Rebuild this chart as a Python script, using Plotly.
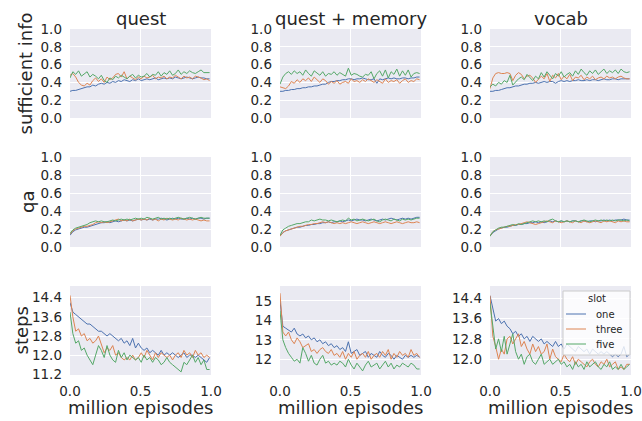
import numpy as np
import plotly.graph_objects as go

# ---------------- data ----------------
columns = ["quest", "quest + memory", "vocab"]
rows = ["sufficient info", "qa", "steps"]
slots = ["one", "three", "five"]
legend_title = "slot"
n_points = 50
episodes = np.linspace(0.0, 0.99, n_points)  # million episodes

# sufficient info
suff_quest_one = [0.30,0.31,0.31,0.32,0.33,0.34,0.35,0.35,0.37,0.36,0.38,0.39,0.38,0.40,0.39,0.41,0.40,0.42,0.41,0.43,0.42,0.41,0.43,0.42,0.44,0.42,0.43,0.44,0.43,0.44,0.45,0.43,0.44,0.45,0.44,0.45,0.44,0.46,0.45,0.44,0.45,0.46,0.45,0.44,0.45,0.46,0.45,0.45,0.44,0.44]
suff_quest_three = [0.48,0.50,0.46,0.40,0.37,0.36,0.39,0.37,0.42,0.45,0.41,0.44,0.40,0.46,0.43,0.45,0.49,0.50,0.46,0.52,0.44,0.47,0.45,0.43,0.46,0.44,0.47,0.45,0.46,0.48,0.44,0.46,0.45,0.47,0.44,0.46,0.45,0.48,0.46,0.44,0.47,0.45,0.46,0.44,0.47,0.46,0.45,0.43,0.44,0.42]
suff_quest_five = [0.45,0.52,0.49,0.53,0.47,0.50,0.52,0.46,0.49,0.47,0.44,0.48,0.42,0.40,0.45,0.43,0.47,0.45,0.48,0.46,0.44,0.47,0.49,0.45,0.48,0.46,0.47,0.50,0.46,0.49,0.48,0.52,0.47,0.51,0.49,0.53,0.48,0.50,0.54,0.49,0.52,0.50,0.53,0.51,0.50,0.52,0.54,0.51,0.51,0.51]

suff_mem_one = [0.30,0.30,0.31,0.31,0.32,0.32,0.33,0.33,0.34,0.34,0.35,0.35,0.36,0.36,0.37,0.38,0.38,0.40,0.41,0.41,0.42,0.42,0.43,0.43,0.44,0.44,0.43,0.44,0.44,0.45,0.44,0.43,0.43,0.44,0.39,0.44,0.43,0.44,0.45,0.44,0.45,0.44,0.44,0.45,0.45,0.44,0.45,0.45,0.46,0.46]
suff_mem_three = [0.35,0.34,0.33,0.36,0.41,0.39,0.43,0.40,0.44,0.42,0.45,0.41,0.46,0.43,0.40,0.44,0.42,0.38,0.41,0.39,0.42,0.38,0.40,0.41,0.39,0.44,0.41,0.42,0.40,0.43,0.41,0.44,0.42,0.40,0.43,0.41,0.39,0.44,0.40,0.42,0.41,0.43,0.39,0.42,0.44,0.40,0.42,0.41,0.44,0.43]
suff_mem_five = [0.38,0.46,0.50,0.52,0.49,0.53,0.50,0.52,0.48,0.54,0.50,0.47,0.53,0.51,0.48,0.52,0.47,0.50,0.49,0.52,0.48,0.51,0.49,0.47,0.56,0.48,0.50,0.49,0.47,0.46,0.49,0.48,0.52,0.44,0.50,0.53,0.47,0.54,0.45,0.52,0.49,0.55,0.47,0.53,0.48,0.54,0.46,0.50,0.51,0.50]

suff_vocab_one = [0.30,0.30,0.31,0.31,0.32,0.33,0.34,0.34,0.35,0.36,0.36,0.37,0.38,0.38,0.39,0.39,0.40,0.39,0.40,0.41,0.40,0.41,0.41,0.39,0.41,0.42,0.41,0.42,0.41,0.42,0.42,0.43,0.42,0.42,0.43,0.42,0.43,0.43,0.42,0.43,0.44,0.43,0.43,0.44,0.44,0.43,0.44,0.44,0.44,0.44]
suff_vocab_three = [0.33,0.45,0.50,0.51,0.50,0.50,0.51,0.50,0.42,0.48,0.51,0.49,0.44,0.47,0.48,0.45,0.40,0.43,0.47,0.44,0.50,0.41,0.48,0.45,0.50,0.43,0.47,0.44,0.49,0.42,0.46,0.45,0.48,0.43,0.46,0.44,0.47,0.43,0.45,0.46,0.44,0.47,0.45,0.46,0.44,0.46,0.47,0.45,0.44,0.44]
suff_vocab_five = [0.35,0.38,0.36,0.40,0.38,0.42,0.40,0.48,0.37,0.41,0.44,0.46,0.43,0.49,0.45,0.42,0.47,0.44,0.51,0.46,0.52,0.48,0.44,0.50,0.47,0.52,0.46,0.49,0.51,0.47,0.53,0.49,0.55,0.51,0.48,0.53,0.50,0.54,0.49,0.52,0.55,0.50,0.53,0.51,0.54,0.50,0.55,0.52,0.51,0.52]

# qa
qa_quest_one = [0.13,0.17,0.19,0.20,0.21,0.22,0.22,0.23,0.24,0.25,0.26,0.27,0.27,0.28,0.27,0.28,0.29,0.28,0.29,0.30,0.29,0.30,0.29,0.30,0.31,0.30,0.31,0.30,0.31,0.30,0.31,0.31,0.32,0.31,0.30,0.31,0.32,0.31,0.32,0.31,0.31,0.32,0.31,0.32,0.31,0.32,0.32,0.31,0.32,0.32]
qa_quest_three = [0.14,0.18,0.20,0.21,0.22,0.23,0.23,0.24,0.25,0.27,0.28,0.27,0.28,0.27,0.28,0.29,0.30,0.31,0.29,0.30,0.29,0.31,0.29,0.30,0.31,0.30,0.31,0.30,0.32,0.30,0.31,0.29,0.31,0.30,0.32,0.31,0.30,0.31,0.30,0.32,0.31,0.30,0.31,0.30,0.31,0.30,0.29,0.30,0.29,0.29]
qa_quest_five = [0.15,0.19,0.21,0.22,0.23,0.24,0.25,0.27,0.28,0.29,0.28,0.29,0.28,0.28,0.29,0.30,0.29,0.30,0.31,0.30,0.31,0.30,0.31,0.32,0.31,0.32,0.31,0.33,0.32,0.31,0.32,0.33,0.31,0.32,0.31,0.32,0.31,0.32,0.33,0.32,0.31,0.32,0.33,0.32,0.31,0.32,0.33,0.32,0.32,0.32]

qa_mem_one = [0.12,0.16,0.18,0.19,0.20,0.21,0.22,0.22,0.23,0.24,0.24,0.25,0.25,0.26,0.26,0.27,0.27,0.28,0.27,0.28,0.28,0.29,0.28,0.29,0.30,0.29,0.30,0.31,0.30,0.30,0.29,0.30,0.31,0.30,0.29,0.30,0.31,0.30,0.31,0.32,0.31,0.30,0.31,0.32,0.31,0.32,0.31,0.32,0.33,0.33]
qa_mem_three = [0.12,0.16,0.18,0.19,0.20,0.21,0.22,0.23,0.23,0.24,0.25,0.25,0.26,0.26,0.27,0.28,0.27,0.28,0.27,0.26,0.27,0.26,0.27,0.26,0.27,0.28,0.27,0.26,0.27,0.28,0.27,0.26,0.27,0.28,0.27,0.26,0.27,0.28,0.27,0.26,0.27,0.28,0.27,0.26,0.27,0.28,0.27,0.27,0.28,0.27]
qa_mem_five = [0.13,0.19,0.21,0.23,0.24,0.25,0.26,0.26,0.27,0.28,0.28,0.30,0.29,0.30,0.31,0.30,0.30,0.29,0.30,0.29,0.28,0.29,0.30,0.29,0.32,0.30,0.31,0.29,0.30,0.31,0.30,0.29,0.30,0.31,0.29,0.28,0.30,0.31,0.30,0.29,0.31,0.30,0.29,0.31,0.30,0.31,0.30,0.31,0.32,0.32]

qa_vocab_one = [0.12,0.16,0.18,0.20,0.21,0.22,0.22,0.23,0.24,0.24,0.25,0.25,0.26,0.26,0.27,0.27,0.28,0.27,0.28,0.27,0.28,0.29,0.28,0.29,0.28,0.29,0.28,0.29,0.28,0.29,0.29,0.28,0.29,0.29,0.28,0.29,0.29,0.28,0.29,0.29,0.30,0.29,0.30,0.29,0.30,0.30,0.30,0.31,0.30,0.30]
qa_vocab_three = [0.12,0.17,0.19,0.20,0.21,0.22,0.23,0.23,0.24,0.25,0.25,0.26,0.27,0.28,0.27,0.26,0.25,0.26,0.27,0.28,0.29,0.28,0.27,0.29,0.28,0.27,0.28,0.29,0.28,0.27,0.29,0.28,0.27,0.29,0.28,0.27,0.28,0.29,0.28,0.27,0.29,0.28,0.29,0.28,0.27,0.29,0.28,0.29,0.28,0.28]
qa_vocab_five = [0.12,0.17,0.19,0.21,0.22,0.22,0.23,0.24,0.25,0.24,0.26,0.25,0.26,0.27,0.28,0.29,0.28,0.29,0.28,0.29,0.28,0.30,0.31,0.29,0.28,0.29,0.28,0.29,0.28,0.29,0.29,0.28,0.29,0.30,0.29,0.28,0.29,0.30,0.29,0.30,0.29,0.30,0.29,0.30,0.29,0.30,0.30,0.29,0.30,0.29]

# steps
steps_quest_one = [14.2,13.8,13.7,13.6,13.5,13.4,13.3,13.3,13.2,13.1,13.0,13.0,12.9,12.8,12.9,12.8,12.7,12.6,12.7,12.5,12.6,12.4,12.7,12.3,12.5,12.3,12.2,12.3,12.1,12.2,12.1,12.0,12.2,12.0,12.1,12.0,12.1,12.0,11.9,12.0,12.1,11.9,12.0,12.0,11.9,12.0,11.9,11.8,11.7,11.9]
steps_quest_three = [14.5,13.6,13.0,13.1,12.8,12.9,12.6,12.7,12.5,12.6,12.8,12.4,12.1,12.3,12.2,12.4,12.0,12.1,11.9,11.8,11.9,11.8,12.0,11.8,11.9,12.1,11.9,12.2,12.0,11.8,12.1,11.9,12.1,12.0,11.9,12.0,11.8,12.0,12.1,11.9,12.2,12.0,12.1,11.9,12.2,12.0,12.1,11.9,12.0,11.9]
steps_quest_five = [13.8,12.9,12.5,12.6,12.2,12.3,12.0,11.8,11.6,12.0,12.4,12.2,11.9,12.4,12.0,11.8,11.7,12.2,11.9,12.1,11.8,12.0,11.9,11.8,11.9,11.7,12.0,11.8,11.9,11.7,11.9,11.8,11.6,11.7,11.9,11.7,11.6,11.5,11.4,11.3,11.7,11.6,11.8,12.0,11.7,11.9,11.6,11.8,11.4,11.4]

steps_mem_one = [15.0,13.7,13.6,13.5,13.4,13.6,13.3,13.2,13.3,13.1,13.2,13.0,13.1,12.9,13.0,12.8,12.9,12.7,12.8,12.6,12.7,12.5,12.6,12.4,12.9,12.3,12.4,12.5,12.2,12.3,12.4,12.1,12.3,12.2,12.1,12.4,12.2,12.1,12.3,12.2,12.0,12.2,12.1,12.0,12.2,12.1,12.2,12.1,12.2,12.1]
steps_mem_three = [15.4,13.4,13.2,13.4,13.0,12.8,13.1,12.9,12.6,12.7,12.8,12.4,12.5,12.3,12.5,12.6,12.4,12.3,12.5,12.2,12.3,12.1,12.4,12.0,12.3,12.1,12.4,12.0,12.2,12.3,12.1,12.4,12.0,12.2,12.3,12.1,12.4,12.2,12.5,12.0,12.3,12.1,12.4,12.2,12.3,12.1,12.5,12.2,12.3,12.1]
steps_mem_five = [14.5,13.0,12.6,12.3,12.1,11.9,12.0,11.8,12.6,12.3,11.9,12.2,11.8,11.7,12.0,12.2,11.8,11.9,11.7,11.8,11.7,11.9,11.8,11.6,12.0,11.7,11.5,11.8,11.6,11.4,11.7,11.9,11.6,11.7,11.8,11.5,11.7,11.9,11.6,11.8,11.5,11.7,11.6,11.8,11.7,11.6,11.8,11.7,11.5,11.5]

steps_vocab_one = [14.5,14.0,13.5,13.6,13.4,13.5,13.3,13.2,13.0,13.1,12.9,13.0,12.8,12.9,12.7,12.9,12.8,12.7,12.8,12.6,12.7,12.6,12.5,12.7,12.5,12.6,12.4,12.6,12.5,12.4,12.3,12.5,12.4,12.3,12.4,12.2,12.4,12.3,12.2,12.3,12.2,12.3,12.2,12.1,12.2,12.1,12.2,12.5,12.1,12.2]
steps_vocab_three = [14.5,12.9,12.5,12.0,12.4,12.2,12.8,12.9,12.6,12.8,13.0,12.5,12.7,12.4,12.2,12.6,12.3,12.5,12.2,12.3,12.6,12.0,12.4,12.1,12.0,11.9,12.2,12.0,11.9,12.1,11.8,12.0,11.9,11.8,11.7,11.9,12.0,11.8,11.7,11.9,11.8,12.0,11.7,11.8,11.9,11.6,11.7,11.6,11.8,11.8]
steps_vocab_five = [14.2,13.3,12.4,12.8,12.3,12.9,12.2,12.6,13.0,12.3,12.0,12.2,11.8,12.1,12.2,11.9,11.8,12.0,12.2,11.8,11.9,12.0,11.8,11.9,12.0,11.8,11.9,11.7,11.8,11.6,11.9,11.7,11.8,11.6,11.9,11.7,11.8,11.9,11.7,11.6,11.8,11.7,11.9,11.6,11.7,11.6,11.8,11.6,11.7,11.8]

panels = [
    [[suff_quest_one, suff_quest_three, suff_quest_five],
     [suff_mem_one, suff_mem_three, suff_mem_five],
     [suff_vocab_one, suff_vocab_three, suff_vocab_five]],
    [[qa_quest_one, qa_quest_three, qa_quest_five],
     [qa_mem_one, qa_mem_three, qa_mem_five],
     [qa_vocab_one, qa_vocab_three, qa_vocab_five]],
    [[steps_quest_one, steps_quest_three, steps_quest_five],
     [steps_mem_one, steps_mem_three, steps_mem_five],
     [steps_vocab_one, steps_vocab_three, steps_vocab_five]],
]

frac_ticks = [0.0, 0.2, 0.4, 0.6, 0.8, 1.0]
steps_ticks = [[11.2, 12.0, 12.8, 13.6, 14.4], [12, 13, 14, 15], [12.0, 12.8, 13.6, 14.4]]
steps_fmt = [".1f", "d", ".1f"]
steps_ranges = [[11.17, 14.89], [11.19, 15.77], [11.38, 14.88]]
x_ticks = [0.0, 0.5, 1.0]

# ---------------- styling ----------------
W, H = 642, 421
colors = ["#4C72B0", "#DD8452", "#55A868"]
bg = "#EAEAF2"
txt = "#262626"
FONT = "DejaVu Sans"

col_px = [(70, 211), (280, 421), (490, 631)]
row_px = [(29, 118), (157, 247), (286, 375)]

fig = go.Figure()
layout = dict()
for r in range(3):
    for c in range(3):
        idx = r * 3 + c + 1
        xa = "xaxis" if idx == 1 else f"xaxis{idx}"
        ya = "yaxis" if idx == 1 else f"yaxis{idx}"
        xr = "x" if idx == 1 else f"x{idx}"
        yr = "y" if idx == 1 else f"y{idx}"
        for k in range(3):
            fig.add_trace(go.Scatter(
                x=episodes, y=panels[r][c][k], mode="lines",
                line=dict(color=colors[k], width=1),
                name=slots[k], legendgroup=slots[k],
                showlegend=False, xaxis=xr, yaxis=yr,
                hoverinfo="skip"))
        x0, x1 = col_px[c]
        y0, y1 = row_px[r]
        layout[xa] = dict(
            domain=[x0 / W, x1 / W], anchor=yr, range=[0, 1], automargin=False,
            tickvals=x_ticks, tickformat=".1f",
            showticklabels=(r == 2), showgrid=True, gridcolor="white",
            gridwidth=1, zeroline=False, showline=False, ticks="",
            ticklabelstandoff=6,
            tickfont=dict(family=FONT, size=13.5, color=txt))
        if r < 2:
            yt, yfmt, yrng = frac_ticks, ".1f", [0, 1]
        else:
            yt, yfmt, yrng = steps_ticks[c], steps_fmt[c], steps_ranges[c]
        layout[ya] = dict(
            domain=[(H - y1) / H, (H - y0) / H], anchor=xr, range=yrng, automargin=False,
            tickvals=yt, tickformat=yfmt,
            showgrid=True, gridcolor="white", gridwidth=1,
            zeroline=False, showline=False, ticks="",
            ticklabelstandoff=7,
            tickfont=dict(family=FONT, size=13.5, color=txt))

annotations = []
shapes = []
for c, name in enumerate(columns):
    cx = (col_px[c][0] + col_px[c][1]) / 2 / W
    annotations.append(dict(text=name, x=cx, y=(H - 18) / H, xref="paper", yref="paper",
                            showarrow=False, xanchor="center", yanchor="middle",
                            font=dict(family=FONT, size=18, color=txt)))
    annotations.append(dict(text="million episodes", x=cx, y=(H - 407) / H, xref="paper",
                            yref="paper", showarrow=False, xanchor="center", yanchor="middle",
                            font=dict(family=FONT, size=18, color=txt)))
ylab_x = [25, 27, 21]
for r, name in enumerate(rows):
    cy = (row_px[r][0] + row_px[r][1]) / 2
    annotations.append(dict(text=name, x=ylab_x[r] / W, y=(H - cy) / H, xref="paper",
                            yref="paper", showarrow=False, textangle=-90,
                            xanchor="center", yanchor="middle",
                            font=dict(family=FONT, size=18, color=txt)))

# legend box (matplotlib-style) in the bottom-right panel
lg_x0, lg_x1, lg_y0, lg_y1 = 563, 630, 291, 355
shapes.append(dict(type="rect", xref="paper", yref="paper",
                   x0=lg_x0 / W, x1=lg_x1 / W, y0=(H - lg_y1) / H, y1=(H - lg_y0) / H,
                   fillcolor="rgba(255,255,255,0.8)", line=dict(color="#CCCCCC", width=1),
                   layer="above"))
annotations.append(dict(text=legend_title, x=(lg_x0 + lg_x1) / 2 / W, y=(H - 299) / H,
                        xref="paper", yref="paper", showarrow=False,
                        xanchor="center", yanchor="middle",
                        font=dict(family=FONT, size=10, color=txt)))
for k, s in enumerate(slots):
    yy = 314 + 15 * k
    shapes.append(dict(type="line", xref="paper", yref="paper",
                       x0=566 / W, x1=586 / W, y0=(H - yy) / H, y1=(H - yy) / H,
                       line=dict(color=colors[k], width=1), layer="above"))
    annotations.append(dict(text=s, x=594 / W, y=(H - yy) / H, xref="paper", yref="paper",
                            showarrow=False, xanchor="left", yanchor="middle",
                            font=dict(family=FONT, size=10, color=txt)))

fig.update_layout(
    width=W, height=H, margin=dict(l=0, r=0, t=0, b=0, autoexpand=False),
    paper_bgcolor="white", plot_bgcolor=bg,
    font=dict(family=FONT, color=txt),
    annotations=annotations, shapes=shapes, showlegend=False,
    **layout)

fig.write_html("out.html", config={"displayModeBar": False},
               post_script="document.body.style.margin='0';document.body.style.padding='0';")
